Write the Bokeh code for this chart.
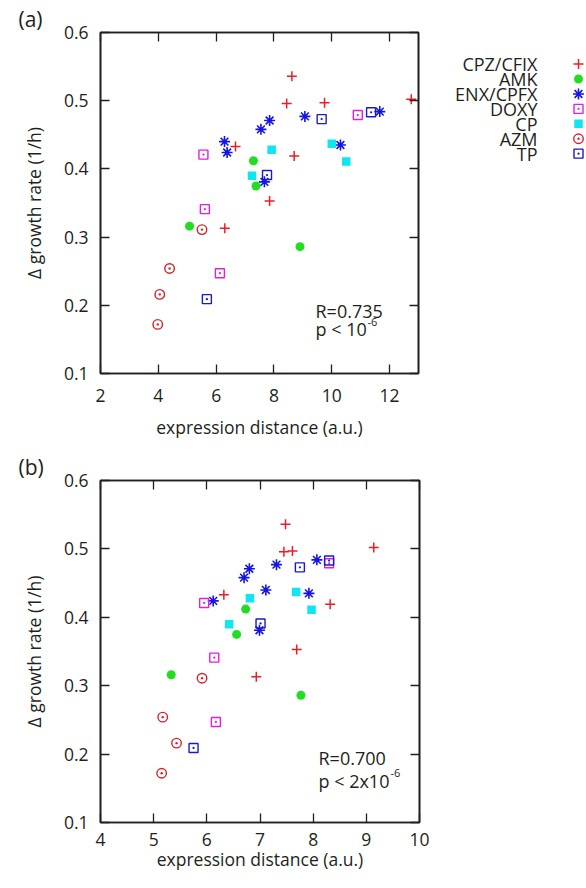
from bokeh.plotting import figure
from bokeh.layouts import column, row
from bokeh.models import Range1d, LinearAxis, FixedTicker, Label
from bokeh.core.properties import value
from bokeh.embed import file_html
from bokeh.resources import INLINE

FONT = "Open Sans"
INK = "#231f20"

# ---------------- data ----------------
series = ["CPZ/CFIX", "AMK", "ENX/CPFX", "DOXY", "CP", "AZM", "TP"]

# growth rate differences (shared by both panels)
cpz_growth = [0.433, 0.353, 0.313, 0.536, 0.496, 0.497, 0.502, 0.419]
amk_growth = [0.412, 0.375, 0.316, 0.286]
enx_growth = [0.471, 0.458, 0.440, 0.424, 0.381, 0.477, 0.484, 0.435]
doxy_growth = [0.421, 0.341, 0.247, 0.479]
cp_growth = [0.428, 0.390, 0.437, 0.411]
azm_growth = [0.311, 0.254, 0.216, 0.172]
tp_growth = [0.391, 0.209, 0.473, 0.483]

# panel (a) expression distances
cpz_dist_a = [6.67, 7.85, 6.30, 8.62, 8.44, 9.75, 12.75, 8.70]
amk_dist_a = [7.29, 7.38, 5.08, 8.90]
enx_dist_a = [7.85, 7.55, 6.29, 6.38, 7.67, 9.07, 11.66, 10.30]
doxy_dist_a = [5.56, 5.61, 6.13, 10.90]
cp_dist_a = [7.92, 7.24, 10.00, 10.50]
azm_dist_a = [5.51, 4.39, 4.05, 3.98]
tp_dist_a = [7.76, 5.68, 9.65, 11.36]

# panel (b) expression distances
cpz_dist_b = [6.32, 7.69, 6.93, 7.48, 7.45, 7.61, 9.14, 8.32]
amk_dist_b = [6.73, 6.56, 5.33, 7.77]
enx_dist_b = [6.80, 6.70, 7.11, 6.12, 6.99, 7.31, 8.07, 7.92]
doxy_dist_b = [5.95, 6.14, 6.17, 8.30]
cp_dist_b = [6.81, 6.42, 7.68, 7.97]
azm_dist_b = [5.91, 5.17, 5.43, 5.15]
tp_dist_b = [7.01, 5.75, 7.75, 8.30]

y_ticks = [0.1, 0.2, 0.3, 0.4, 0.5, 0.6]
x_ticks_a = [2, 4, 6, 8, 10, 12]
x_ticks_b = [4, 5, 6, 7, 8, 9, 10]

stats_a = ("R=0.735", "p < 10", "-6")
stats_b = ("R=0.700", "p < 2x10", "-6")

growth = [cpz_growth, amk_growth, enx_growth, doxy_growth, cp_growth, azm_growth, tp_growth]
dist_a = [cpz_dist_a, amk_dist_a, enx_dist_a, doxy_dist_a, cp_dist_a, azm_dist_a, tp_dist_a]
dist_b = [cpz_dist_b, amk_dist_b, enx_dist_b, doxy_dist_b, cp_dist_b, azm_dist_b, tp_dist_b]

# ---------------- styles ----------------
STY = {
    "CPZ/CFIX": dict(marker="cross", size=10, line_color="#ee1c24", fill_color=None, line_width=1.5),
    "AMK": dict(marker="circle", size=9, line_color="#22dd22", fill_color="#22dd22", line_width=0),
    "ENX/CPFX": dict(marker="asterisk", size=11, line_color="#1414e6", fill_color=None, line_width=1.6),
    "DOXY": dict(marker="square_dot", size=9, line_color="#e020e0", fill_color=None, line_width=1.4),
    "CP": dict(marker="square", size=8.5, line_color="#10e6f0", fill_color="#10e6f0", line_width=0),
    "AZM": dict(marker="circle_dot", size=9.5, line_color="#d8202a", fill_color=None, line_width=1.4),
    "TP": dict(marker="square_dot", size=9, line_color="#1a1ac8", fill_color=None, line_width=1.4),
}


def style_axis(ax, ticks, labels=True, standoff=10, label_standoff=10):
    ax.ticker = FixedTicker(ticks=ticks)
    ax.major_tick_in = 9
    ax.major_tick_out = 0
    ax.minor_tick_line_color = None
    ax.axis_line_color = INK
    ax.axis_line_width = 1.6
    ax.major_tick_line_color = INK
    ax.major_tick_line_width = 1.3
    if labels:
        ax.major_label_text_font = FONT
        ax.major_label_text_font_size = "17.5px"
        ax.major_label_text_color = INK
        ax.major_label_standoff = standoff
        ax.axis_label_text_font = FONT
        ax.axis_label_text_font_size = "17.5px"
        ax.axis_label_text_font_style = "normal"
        ax.axis_label_text_color = INK
        ax.axis_label_standoff = label_standoff
    else:
        ax.major_label_text_font_size = "0px"
        ax.major_label_text_color = None
        ax.major_label_standoff = 0


def make_panel(xr, xticks, dists, tag, stats, fw, fh, top, bottom,
               x_std, x_lbl_std, stat_pos):
    p = figure(frame_width=fw, frame_height=fh, x_range=Range1d(*xr), y_range=Range1d(0.1, 0.6),
               output_backend="svg", toolbar_location=None,
               min_border_left=100, min_border_right=10, min_border_top=top, min_border_bottom=bottom)
    p.xgrid.visible = False
    p.ygrid.visible = False
    p.outline_line_color = INK
    p.outline_line_width = 1.6
    p.background_fill_color = "white"
    p.border_fill_color = "white"

    p.title.text = tag
    p.title.align = "left"
    p.title.offset = -82
    p.title.standoff = 0
    p.title.text_font = FONT
    p.title.text_font_size = "21px"
    p.title.text_font_style = "normal"
    p.title.text_color = INK

    p.xaxis.axis_label = "expression distance (a.u.)"
    p.yaxis.axis_label = "\u0394 growth rate (1/h)"
    style_axis(p.xaxis[0], xticks, True, x_std, x_lbl_std)
    style_axis(p.yaxis[0], y_ticks, True, 12, 15)

    ta = LinearAxis()
    style_axis(ta, xticks, False)
    p.add_layout(ta, "above")
    ra = LinearAxis()
    style_axis(ra, y_ticks, False)
    p.add_layout(ra, "right")

    for name, xs, ys in zip(series, dists, growth):
        p.scatter(x=xs, y=ys, **STY[name])

    (rx, ry, py, sx, sy) = stat_pos
    p.add_layout(Label(x=rx, y=ry, x_units="screen", y_units="screen", text=stats[0],
                       text_font=FONT, text_font_size="18px", text_color=INK,
                       text_baseline="alphabetic"))
    p.add_layout(Label(x=rx, y=py, x_units="screen", y_units="screen", text=stats[1],
                       text_font=FONT, text_font_size="18px", text_color=INK,
                       text_baseline="alphabetic"))
    p.add_layout(Label(x=sx, y=sy, x_units="screen", y_units="screen", text=stats[2],
                       text_font=FONT, text_font_size="11px", text_color=INK,
                       text_baseline="alphabetic"))
    return p


p_a = make_panel((2, 13), x_ticks_a, dist_a, "(a)", stats_a, 318, 341, 32, 77,
                 15, 10, (215, 63, 45, 267, 52))
p_b = make_panel((4, 10), x_ticks_b, dist_b, "(b)", stats_b, 319, 342, 29, 60,
                 10, -2, (218, 65, 42, 290, 50))

# ---------------- legend panel ----------------
LW, LH = 158, 450
p_leg = figure(width=LW, height=LH, x_range=Range1d(0, LW), y_range=Range1d(LH, 0),
               output_backend="svg", toolbar_location=None, min_border=0)
p_leg.axis.visible = False
p_leg.xgrid.visible = False
p_leg.ygrid.visible = False
p_leg.outline_line_color = None
leg_top, leg_step = 41.7, 19.7
leg_y = [leg_top + i * leg_step for i in range(len(series))]
p_leg.text(x=[109] * len(series), y=leg_y, text=series, text_align="right",
           text_baseline="middle", text_font=value(FONT), text_font_size="18px", text_color=INK)
for name, yy in zip(series, leg_y):
    p_leg.scatter(x=[150], y=[yy], **STY[name])

layout = column(row(p_a, p_leg), p_b)
open("out.html", "w").write(file_html(layout, INLINE))
